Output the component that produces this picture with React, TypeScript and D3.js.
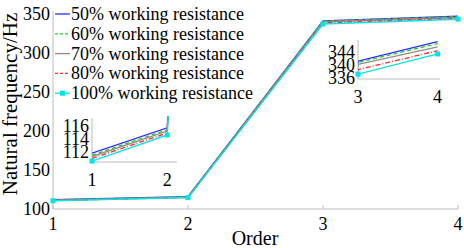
import React from "react";
import * as d3 from "d3";

const orders = [1, 2, 3, 4];
const seriesNames = [
  "50% working resistance",
  "60% working resistance",
  "70% working resistance",
  "80% working resistance",
  "100% working resistance",
];
const freq50 = [111.8, 115.7, 341.2, 347.2];
const freq60 = [111.5, 115.4, 340.8, 346.6];
const freq70 = [111.3, 115.2, 340.2, 345.6];
const freq80 = [111.0, 114.9, 338.6, 344.4];
const freq100 = [110.6, 114.6, 337.2, 343.4];
const yTicks = [100, 150, 200, 250, 300, 350];
const inset1Ticks = [112, 114, 116];
const inset2Ticks = [336, 340, 344];

const W = 464;
const H = 248;
const SERIF = "Liberation Serif";

const series = [
  { name: seriesNames[0], values: freq50, color: "#2b2bff", dash: "" },
  { name: seriesNames[1], values: freq60, color: "#1ccf1c", dash: "4,3" },
  { name: seriesNames[2], values: freq70, color: "#8c8c8c", dash: "" },
  { name: seriesNames[3], values: freq80, color: "#ff2a2a", dash: "5,2,1,2" },
  { name: seriesNames[4], values: freq100, color: "#00e6e6", dash: "", marker: true },
];

const axisColor = "#bdbdbd";

// every text goes through this so the serif face is always set the same way
function T({ x, y, size = 18, anchor = "start", transform, children }: any) {
  return (
    <text x={x} y={y} fontSize={size} textAnchor={anchor} transform={transform} style={{ fontFamily: `"${SERIF}"` }}>
      {children}
    </text>
  );
}

type Box = { x0: number; x1: number; y0: number; y1: number };

function Inset({ id, xDom, yDom, box, xt, yt }: { id: string; xDom: [number, number]; yDom: [number, number]; box: Box; xt: number[]; yt: number[] }) {
  const x = d3.scaleLinear().domain(xDom).range([box.x0, box.x1]);
  const y = d3.scaleLinear().domain(yDom).range([box.y1, box.y0]);
  const line = d3
    .line<number>()
    .x((_, i) => x(orders[i]))
    .y((d) => y(d));
  return (
    <g>
      <defs>
        <clipPath id={id}>
          <rect x={box.x0} y={box.y0 - 2} width={box.x1 - box.x0} height={box.y1 - box.y0 + 4} />
        </clipPath>
      </defs>
      <line x1={box.x0} x2={box.x0} y1={box.y0} y2={box.y1} stroke={axisColor} />
      <line x1={box.x0} x2={box.x1} y1={box.y1} y2={box.y1} stroke={axisColor} />
      {yt.map((t) => (
        <T key={t} x={box.x0 - 3} y={y(t) + 6} anchor="end">
          {t}
        </T>
      ))}
      {xt.map((t) => (
        <T key={t} x={x(t)} y={box.y1 + 24} anchor="middle">
          {t}
        </T>
      ))}
      <g clipPath={`url(#${id})`}>
        {series.map((s) => (
          <path key={s.name} d={line(s.values) || ""} fill="none" stroke={s.color} strokeWidth={1.3} strokeDasharray={s.dash} />
        ))}
      </g>
      {series
        .filter((s) => s.marker)
        .map((s) =>
          s.values.map((v, i) =>
            orders[i] >= xDom[0] && orders[i] <= xDom[1] ? (
              <rect key={i} x={x(orders[i]) - 2.5} y={y(v) - 2.5} width={5} height={5} fill={s.color} />
            ) : null
          )
        )}
    </g>
  );
}

export default function App() {
  const x = d3.scaleLinear().domain([1, 4]).range([53, 458]);
  const y = d3.scaleLinear().domain([100, 350]).range([209, 14]);
  const line = d3
    .line<number>()
    .x((_, i) => x(orders[i]))
    .y((d) => y(d));

  return (
    <svg width={W} height={H} style={{ position: "absolute", left: 0, top: 0, background: "#fff" }}>
      {/* main axes */}
      <line x1={53} x2={53} y1={11} y2={209} stroke={axisColor} />
      <line x1={53} x2={458} y1={209} y2={209} stroke={axisColor} />
      {orders.map((o) => (
        <g key={o}>
          <line x1={x(o)} x2={x(o)} y1={209} y2={205} stroke={axisColor} />
          <T x={x(o)} y={230} anchor="middle">
            {o}
          </T>
        </g>
      ))}
      {yTicks.map((t) => (
        <T key={t} x={50} y={y(t) + 6} anchor="end">
          {t}
        </T>
      ))}
      <T x={255} y={245} size={20} anchor="middle">
        Order
      </T>
      <T transform="translate(17,104) rotate(-90)" x={0} y={0} size={21} anchor="middle">
        Natural frequency/Hz
      </T>

      {series.map((s) => (
        <path key={s.name} d={line(s.values) || ""} fill="none" stroke={s.color} strokeWidth={1.5} strokeDasharray={s.dash} />
      ))}
      {series
        .filter((s) => s.marker)
        .map((s) =>
          s.values.map((v, i) => <rect key={i} x={x(orders[i]) - 2.5} y={y(v) - 2.5} width={5} height={5} fill={s.color} />)
        )}

      {/* legend */}
      {series.map((s, i) => {
        const ly = 14 + i * 19.8;
        return (
          <g key={s.name}>
            <line x1={55} x2={70} y1={ly} y2={ly} stroke={s.color} strokeWidth={1.3} strokeDasharray={s.dash ? "3,2" : ""} />
            {s.marker && <rect x={60} y={ly - 2.5} width={5} height={5} fill={s.color} />}
            <T x={71} y={ly + 6}>
              {s.name}
            </T>
          </g>
        );
      })}

      <Inset id="in1" xDom={[1, 2.13]} yDom={[110.46, 117.2]} box={{ x0: 92, x1: 177, y0: 118, y1: 162 }} xt={[1, 2]} yt={inset1Ticks} />
      <Inset id="in2" xDom={[3, 4.03]} yDom={[335.7, 347.7]} box={{ x0: 358, x1: 440, y0: 40, y1: 79 }} xt={[3, 4]} yt={inset2Ticks} />
    </svg>
  );
}
